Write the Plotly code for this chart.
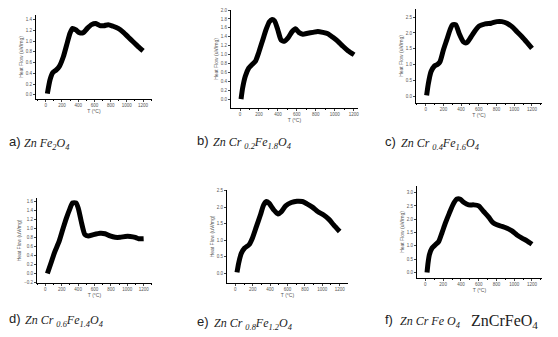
import plotly.graph_objects as go

W, H = 558, 337

# ---- data (T in °C, heat flow in uV/mg) ----
T_a = [20, 53, 86, 127, 168, 217, 258, 299, 332, 373, 414, 463, 512, 565, 618, 668, 717, 770, 831, 893, 954, 1016, 1077, 1139, 1200]
HF_a = [0.02, 0.28, 0.41, 0.46, 0.53, 0.71, 0.93, 1.15, 1.24, 1.21, 1.16, 1.16, 1.24, 1.31, 1.33, 1.29, 1.29, 1.31, 1.28, 1.24, 1.17, 1.08, 0.99, 0.90, 0.82]

T_b = [11, 28, 56, 92, 127, 162, 198, 240, 275, 311, 339, 364, 399, 434, 469, 505, 551, 586, 621, 664, 716, 769, 822, 875, 928, 981, 1034, 1087, 1140, 1205]
HF_b = [0.01, 0.26, 0.52, 0.70, 0.78, 0.85, 1.05, 1.33, 1.56, 1.74, 1.79, 1.76, 1.56, 1.33, 1.30, 1.37, 1.52, 1.58, 1.50, 1.46, 1.48, 1.50, 1.52, 1.50, 1.47, 1.39, 1.30, 1.19, 1.09, 1.00]

T_c = [11, 30, 60, 98, 136, 162, 200, 238, 275, 302, 340, 377, 426, 464, 513, 558, 604, 672, 740, 804, 860, 917, 974, 1030, 1087, 1143, 1200]
HF_c = [0.02, 0.39, 0.77, 0.95, 1.01, 1.09, 1.46, 1.78, 2.10, 2.26, 2.26, 1.99, 1.72, 1.69, 1.88, 2.07, 2.22, 2.29, 2.31, 2.36, 2.36, 2.31, 2.20, 2.04, 1.88, 1.70, 1.51]

T_d = [25, 74, 115, 168, 217, 258, 299, 332, 373, 401, 442, 483, 524, 586, 668, 729, 790, 852, 913, 975, 1036, 1098, 1139, 1200]
HF_d = [0.0, 0.26, 0.48, 0.71, 1.00, 1.23, 1.43, 1.56, 1.56, 1.45, 1.12, 0.86, 0.83, 0.86, 0.89, 0.88, 0.83, 0.80, 0.80, 0.82, 0.82, 0.80, 0.77, 0.77]

T_e = [19, 38, 69, 107, 157, 196, 242, 288, 326, 357, 387, 441, 491, 529, 579, 644, 709, 771, 824, 886, 951, 1016, 1077, 1131, 1200]
HF_e = [0.02, 0.30, 0.60, 0.76, 0.86, 1.06, 1.41, 1.76, 2.07, 2.17, 2.12, 1.92, 1.79, 1.86, 2.04, 2.14, 2.18, 2.17, 2.10, 2.00, 1.86, 1.76, 1.63, 1.46, 1.26]

T_f = [19, 30, 45, 75, 113, 150, 188, 225, 270, 319, 356, 394, 431, 488, 544, 600, 656, 713, 758, 806, 863, 919, 975, 1031, 1088, 1144, 1200]
HF_f = [0.0, 0.35, 0.66, 0.91, 1.04, 1.16, 1.50, 1.85, 2.23, 2.60, 2.76, 2.75, 2.64, 2.54, 2.54, 2.50, 2.29, 2.08, 1.88, 1.79, 1.73, 1.66, 1.56, 1.41, 1.29, 1.19, 1.06]

x_ticks = [0, 200, 400, 600, 800, 1000, 1200]

labels = ['a)', 'b)', 'c)', 'd)', 'e)', 'f)']
formulas = [
    'Zn Fe<sub>2</sub>O<sub>4</sub>',
    'Zn Cr <sub>0.2</sub>Fe<sub>1.8</sub>O<sub>4</sub>',
    'Zn Cr <sub>0.4</sub>Fe<sub>1.6</sub>O<sub>4</sub>',
    'Zn Cr <sub>0.6</sub>Fe<sub>1.4</sub>O<sub>4</sub>',
    'Zn Cr <sub>0.8</sub>Fe<sub>1.2</sub>O<sub>4</sub>',
    'Zn Cr Fe O<sub>4</sub>',
]

series = [(T_a, HF_a), (T_b, HF_b), (T_c, HF_c), (T_d, HF_d), (T_e, HF_e), (T_f, HF_f)]

# ---- layout geometry (pixels) ----
panels = [
    dict(px=(36, 152), py=(15, 99), xr=[-120, 1310], yr=[-0.08, 1.49], yt=[0, 0.2, 0.4, 0.6, 0.8, 1.0, 1.2, 1.4]),
    dict(px=(231, 358), py=(10, 108), xr=[-95, 1246], yr=[-0.19, 2.0], yt=[-0.2, 0, 0.2, 0.4, 0.6, 0.8, 1.0, 1.2, 1.4, 1.6, 1.8, 2.0]),
    dict(px=(416, 542), py=(9, 103), xr=[-109, 1313], yr=[-0.22, 2.76], yt=[0, 0.5, 1.0, 1.5, 2.0, 2.5]),
    dict(px=(37, 152), py=(198, 283), xr=[-102, 1302], yr=[-0.21, 1.67], yt=[-0.2, 0, 0.2, 0.4, 0.6, 0.8, 1.0, 1.2, 1.4, 1.6]),
    dict(px=(227, 348), py=(190, 283), xr=[-96, 1296], yr=[-0.30, 2.52], yt=[0, 0.5, 1.0, 1.5, 2.0, 2.5]),
    dict(px=(417, 542), py=(186, 278), xr=[-94, 1313], yr=[-0.21, 3.25], yt=[0, 0.5, 1.0, 1.5, 2.0, 2.5, 3.0]),
]
# (label x, formula x, centre y) in pixels
cap_pos = [(7, 22, 141.5), (195, 211, 140.5), (383, 399, 141.5), (7, 23, 318), (195, 212, 321.5), (383, 398, 319.5)]

fig = go.Figure()
layout = dict(width=W, height=H, autosize=False,
              margin=dict(l=0, r=0, t=0, b=0, pad=0, autoexpand=False),
              paper_bgcolor='white', plot_bgcolor='white', showlegend=False,
              font=dict(family='Liberation Sans', color='#555'))
annotations = []

for i, (p, (tx, hy)) in enumerate(zip(panels, series)):
    n = '' if i == 0 else str(i + 1)
    fig.add_trace(go.Scatter(x=tx, y=hy, mode='lines',
                             line=dict(color='black', width=5, shape='spline', smoothing=0.6),
                             xaxis='x' + n, yaxis='y' + n, hoverinfo='skip'))
    xd = [p['px'][0] / W, p['px'][1] / W]
    yd = [1 - p['py'][1] / H, 1 - p['py'][0] / H]
    layout['xaxis' + n] = dict(domain=xd, range=p['xr'], anchor='y' + n, automargin=False,
                               tickvals=x_ticks, ticks='outside', ticklen=2, tickwidth=1,
                               showline=True, linecolor='black', linewidth=1,
                               showgrid=False, zeroline=False,
                               tickfont=dict(size=4.5, color='#555'),
                               minor=dict(ticks='outside', ticklen=1.2, tickcolor='black', dtick=100, tick0=0),
                               title=dict(text='T (°C)', font=dict(size=5, color='#555'), standoff=1))
    layout['yaxis' + n] = dict(domain=yd, range=p['yr'], anchor='x' + n, automargin=False,
                               tickvals=p['yt'], tickformat='.1f', ticks='outside', ticklen=2, tickwidth=1,
                               showline=True, linecolor='black', linewidth=1,
                               showgrid=False, zeroline=False,
                               tickfont=dict(size=4.5, color='#555'),
                               title=dict(text='Heat Flow (uV/mg)', font=dict(size=5, color='#555'), standoff=2))
    lx, fx, cy = cap_pos[i]
    annotations.append(dict(text=labels[i], x=lx / W, y=1 - cy / H, xref='paper', yref='paper',
                            xanchor='left', yanchor='middle', showarrow=False,
                            font=dict(family='Liberation Sans', size=13, color='#222')))
    annotations.append(dict(text='<i>' + formulas[i] + '</i>', x=fx / W, y=1 - (cy + 2.5) / H,
                            xref='paper', yref='paper',
                            xanchor='left', yanchor='middle', showarrow=False,
                            font=dict(family='Liberation Serif', size=12, color='#222')))

# extra large formula next to caption f
annotations.append(dict(text='ZnCrFeO<sub>4</sub>', x=469 / W, y=1 - 321 / H, xref='paper', yref='paper',
                        xanchor='left', yanchor='middle', showarrow=False,
                        font=dict(family='Liberation Serif', size=16, color='#222')))
layout['annotations'] = annotations
fig.update_layout(**layout)
fig.write_html('out.html', config={'responsive': False, 'displayModeBar': False},
               post_script="document.body.style.margin='0px';document.body.style.padding='0px';")
